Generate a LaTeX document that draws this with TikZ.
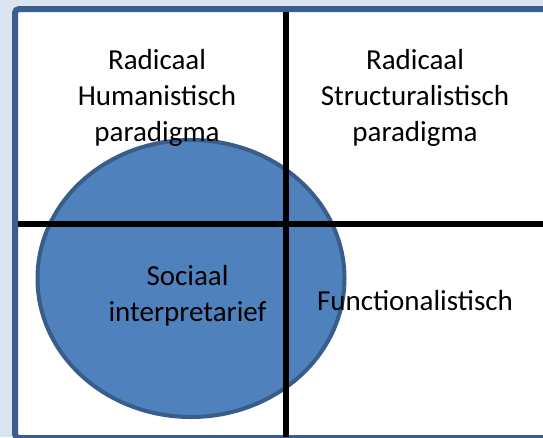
\documentclass[tikz,border=0pt]{standalone}
\usepackage{fontspec}
\setmainfont{Carlito}
\usepackage{tikz}
\usetikzlibrary{positioning}
\definecolor{achter}{HTML}{DBE5F1}
\definecolor{rand}{HTML}{3B5F8C}
\definecolor{bol}{HTML}{4F81BD}
\definecolor{bolrand}{HTML}{385D8A}

\begin{document}
\begin{tikzpicture} [x=1pt, y=-1pt,
        label/.style = {align=center, font=\fontsize{29}{36}\selectfont, inner sep=0pt},
        as/.style = {line width=6pt, black}]
        \useasboundingbox (0,0) rectangle (543,437);
        \clip (0,0) rectangle (543,437);
        %Achtergrond
        \fill[achter] (0,0) rectangle (543,437);
        \draw[rand, line width=6pt, fill=white, rounded corners=4pt] (15,9) rectangle (570,438);

        %Ellips
        \draw[bolrand, line width=4pt, fill=bol] (191,278.5) ellipse [x radius=153.5, y radius=138.5];

        %Assen
        \coordinate (boven) at (286,12);
        \coordinate (onder) at (286,437);
        \coordinate (links) at (18,223.5);
        \coordinate (rechts) at (543,223.5);
        \draw[as] (boven) -- (onder);
        \draw[as] (links) -- (rechts);

        %Tekst
        \node[label] (rh) at (157,98) {Radicaal\\Humanistisch\\paradigma};
        \node[label] (rs) at (415,98) {Radicaal\\Structuralistisch\\paradigma};
        \node[label] (si) at (187.5,296) {Sociaal\\interpretarief};
        \node[label] (fu) at (415,301) {Functionalistisch};
    \end{tikzpicture}
\end{document}
